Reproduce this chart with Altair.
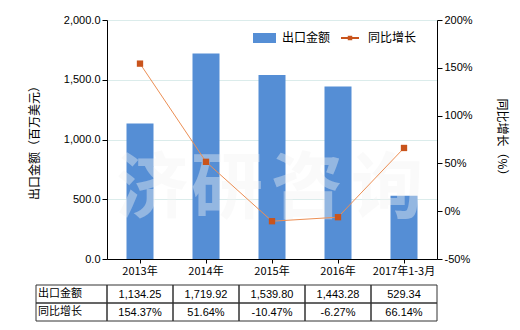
import altair as alt
import pandas as pd

categories = ["2013年", "2014年", "2015年", "2016年", "2017年1-3月"]
export_values = [1134.25, 1719.92, 1539.80, 1443.28, 529.34]
growth_values = [154.37, 51.64, -10.47, -6.27, 66.14]
left_ticks = [0, 500, 1000, 1500, 2000]
right_ticks = [-50, 0, 50, 100, 150, 200]
watermark_chars = ["济", "研", "咨", "询"]

FONT = "Liberation Sans, Noto Sans CJK SC, sans-serif"
CJK = "Noto Sans CJK SC, sans-serif"
BAR = "#558ed5"
LINE = "#ec8f55"
MARK = "#c9541c"

df = pd.DataFrame({
    "cat": categories,
    "export": export_values,
    "growth": growth_values,
    "export_txt": [f"{v:,.2f}" for v in export_values],
    "growth_txt": [f"{v:.2f}%" for v in growth_values],
})

xenc = alt.X("cat:N", sort=None,
             scale=alt.Scale(paddingInner=0, paddingOuter=0),
             axis=alt.Axis(title=None, labelAngle=0, domainColor="black",
                           tickColor="black", tickSize=4, labelPadding=2,
                           labelFont=CJK, labelFontSize=11, labelColor="#000"))

base = alt.Chart(df)

bars = base.mark_bar(width=27, color=BAR).encode(
    x=xenc,
    y=alt.Y("export:Q", scale=alt.Scale(domain=[0, 2000], nice=False),
            axis=alt.Axis(title="出口金额（百万美元）", values=left_ticks, format=",.1f",
                          orient="left", domainColor="black", tickColor="black",
                          tickSize=5, gridColor="#dbeceb", grid=True,
                          titleFont=CJK, titleFontSize=12, titleFontWeight="normal",
                          titlePadding=22, labelFontSize=11, labelColor="#000",
                          labelFont=FONT)),
)

line = base.mark_line(color=LINE, strokeWidth=1).encode(
    x=alt.X("cat:N", sort=None),
    y=alt.Y("growth:Q", scale=alt.Scale(domain=[-50, 200], nice=False),
            axis=alt.Axis(title="同比增长（%）", values=right_ticks, orient="right",
                          labelExpr="datum.value + '%'", grid=False,
                          domainColor="black", tickColor="black", tickSize=5,
                          titleFont=CJK, titleFontSize=12, titleFontWeight="normal",
                          titlePadding=22, labelFontSize=11, labelColor="#000",
                          labelFont=FONT)),
)
points = base.mark_point(shape="square", filled=True, color=MARK, size=40, opacity=1).encode(
    x=alt.X("cat:N", sort=None),
    y=alt.Y("growth:Q", scale=alt.Scale(domain=[-50, 200], nice=False), axis=None),
)

one = alt.Chart(pd.DataFrame({"k": [0]}))

# watermark
wm_x = [45, 120, 200, 280]
wm_layers = []
for ch, xx in zip(watermark_chars, wm_x):
    wm_layers.append(one.mark_text(text=ch, font=CJK, fontSize=72, fontWeight="bold",
                                   color="#f4f4f4", opacity=0.4, align="center",
                                   baseline="middle").encode(
        x=alt.value(xx), y=alt.value(170)))

# legend
leg = [
    one.mark_rect(color=BAR).encode(x=alt.value(146), x2=alt.value(169),
                                    y=alt.value(13), y2=alt.value(23)),
    one.mark_text(text="出口金额", font=CJK, fontSize=12, align="left",
                  baseline="middle", color="#000").encode(x=alt.value(175), y=alt.value(18)),
    one.mark_rule(color=MARK, strokeWidth=2).encode(x=alt.value(234), x2=alt.value(252),
                                                    y=alt.value(18)),
    one.mark_point(shape="square", filled=True, color=MARK, size=20, opacity=1).encode(
        x=alt.value(243), y=alt.value(18)),
    one.mark_text(text="同比增长", font=CJK, fontSize=12, align="left",
                  baseline="middle", color="#000").encode(x=alt.value(261), y=alt.value(18)),
]

# table
cell_style = dict(filled=False, stroke="#333", strokeWidth=1)
table = [
    base.mark_rect(**cell_style).encode(x=alt.X("cat:N", sort=None),
                                        y=alt.value(265), y2=alt.value(283)),
    base.mark_rect(**cell_style).encode(x=alt.X("cat:N", sort=None),
                                        y=alt.value(283), y2=alt.value(301)),
    one.mark_rect(**cell_style).encode(x=alt.value(-71), x2=alt.value(0),
                                       y=alt.value(265), y2=alt.value(283)),
    one.mark_rect(**cell_style).encode(x=alt.value(-71), x2=alt.value(0),
                                       y=alt.value(283), y2=alt.value(301)),
    one.mark_text(text="出口金额", font=CJK, fontSize=11, align="left",
                  baseline="middle", color="#000").encode(x=alt.value(-69), y=alt.value(274)),
    one.mark_text(text="同比增长", font=CJK, fontSize=11, align="left",
                  baseline="middle", color="#000").encode(x=alt.value(-69), y=alt.value(292)),
    base.mark_text(font=FONT, fontSize=11, baseline="middle", color="#000").encode(
        x=alt.X("cat:N", sort=None), y=alt.value(275), text="export_txt:N"),
    base.mark_text(font=FONT, fontSize=11, baseline="middle", color="#000").encode(
        x=alt.X("cat:N", sort=None), y=alt.value(293), text="growth_txt:N"),
]

chart = alt.layer(
    bars, *wm_layers, line, points, *leg, *table
).resolve_scale(y="independent").properties(
    width=330, height=239,
    autosize=alt.AutoSizeParams(type="none"),
    padding={"left": 107, "top": 20, "right": 83, "bottom": 71},
).configure_view(stroke=None).configure(background="white")

chart.save("out.html", embed_options={"renderer": "svg", "actions": False})
